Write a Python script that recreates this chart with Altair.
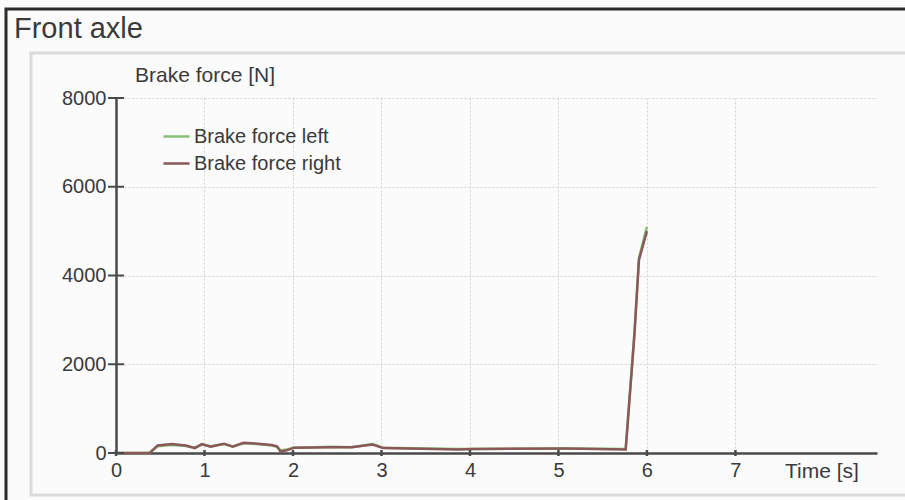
import altair as alt
import pandas as pd

# Brake force on the front axle, left and right wheel
time_s = [0.00, 0.38, 0.47, 0.63, 0.79, 0.89, 0.97, 1.07, 1.22, 1.32, 1.44, 1.60,
          1.76, 1.82, 1.86, 1.93, 2.01, 2.45, 2.66, 2.90, 3.02, 3.87, 4.03, 5.09,
          5.76, 5.86, 5.91, 6.00]
force_left = [0, 0, 150, 180, 160, 120, 190, 150, 200, 150, 220, 200,
              170, 140, 60, 80, 120, 140, 130, 200, 120, 90, 90, 100,
              90, 2750, 4400, 5100]
force_right = [0, 0, 170, 200, 170, 110, 200, 140, 210, 140, 230, 210,
               180, 150, 30, 60, 120, 130, 130, 190, 110, 80, 90, 100,
               80, 2700, 4350, 5000]

series_names = ["Brake force left", "Brake force right"]
series_colors = ["#86c276", "#8a5858"]

x_ticks = [0, 1, 2, 3, 4, 5, 6, 7]
y_ticks = [0, 2000, 4000, 6000, 8000]

rows = []
for name, values in zip(series_names, [force_left, force_right]):
    for t, f in zip(time_s, values):
        rows.append({"time": t, "force": f, "series": name})
df = pd.DataFrame(rows)

W, H = 761, 355
LEFT, TOP = 116, 98
FONT = "Liberation Sans"
TEXT = "#3a3a3a"
AXIS = "#4a4a4a"

x_scale = alt.Scale(domain=[0, 8.6], nice=False)
y_scale = alt.Scale(domain=[0, 8000], nice=False)

x_axis = alt.Axis(values=x_ticks, title=None, grid=True, format="d",
                  gridColor="#d2d2d2", gridDash=[2, 2], gridWidth=1,
                  domainColor=AXIS, domainWidth=2.5, ticks=False,
                  labelFont=FONT, labelFontSize=20, labelColor=TEXT,
                  labelPadding=7, labelFlush=False)
y_axis = alt.Axis(values=y_ticks, title=None, grid=True, format="d",
                  gridColor="#d2d2d2", gridDash=[2, 2], gridWidth=1,
                  domainColor=AXIS, domainWidth=2.5, ticks=False,
                  labelFont=FONT, labelFontSize=20, labelColor=TEXT,
                  labelPadding=10)

# outer frame and inner panel outline
frame = alt.Chart(pd.DataFrame({"k": [0]})).mark_rect(
    fill="transparent", stroke="#2b2b2b", strokeWidth=3
).encode(x=alt.value(6 - LEFT), x2=alt.value(905 - LEFT + 20),
         y=alt.value(9 - TOP), y2=alt.value(500 - TOP + 20))

panel = alt.Chart(pd.DataFrame({"k": [0]})).mark_rect(
    fill="transparent", stroke="#dadada", strokeWidth=3
).encode(x=alt.value(31 - LEFT), x2=alt.value(905 - LEFT + 20),
         y=alt.value(53 - TOP), y2=alt.value(495 - TOP))

lines = alt.Chart(df).mark_line(strokeWidth=2.5, clip=False).encode(
    x=alt.X("time:Q", scale=x_scale, axis=x_axis),
    y=alt.Y("force:Q", scale=y_scale, axis=y_axis),
    color=alt.Color("series:N",
                    scale=alt.Scale(domain=series_names, range=series_colors),
                    legend=alt.Legend(title=None, orient="none",
                                      legendX=46, legendY=24,
                                      symbolType="stroke", symbolSize=680,
                                      symbolStrokeWidth=2.5,
                                      labelFont=FONT, labelFontSize=20,
                                      labelColor=TEXT, labelOffset=3,
                                      rowPadding=2, padding=0)),
    order=alt.Order("time:Q"),
)

# tick marks crossing both axis lines
y_tick_marks = alt.Chart(pd.DataFrame({"force": y_ticks})).mark_rule(
    color=AXIS, strokeWidth=2
).encode(y=alt.Y("force:Q", scale=y_scale, axis=y_axis),
         x=alt.value(-8), x2=alt.value(8))

x_tick_marks = alt.Chart(pd.DataFrame({"time": x_ticks})).mark_rule(
    color=AXIS, strokeWidth=2.5
).encode(x=alt.X("time:Q", scale=x_scale, axis=x_axis),
         y=alt.value(H - 3), y2=alt.value(H + 3))

def label(text, x, y, size, align="left"):
    return alt.Chart(pd.DataFrame({"t": [text]})).mark_text(
        font=FONT, fontSize=size, color=TEXT, align=align, baseline="middle"
    ).encode(x=alt.value(x), y=alt.value(y), text="t:N")

title = label("Front axle", 14 - LEFT, 29 - TOP, 29)
y_title = label("Brake force [N]", 135 - LEFT, 76 - TOP, 21)
x_title = label("Time [s]", 785 - LEFT, 472 - TOP, 21)

chart = alt.layer(frame, panel, lines, y_tick_marks, x_tick_marks,
                  title, y_title, x_title).properties(
    width=W, height=H,
    padding={"left": LEFT, "top": TOP, "right": 905 - LEFT - W, "bottom": 500 - TOP - H},
    autosize=alt.AutoSizeParams(type="none"),
).configure(background="#fbfbfb").configure_view(stroke="transparent")

chart.save("out.html", embed_options={"renderer": "svg", "actions": False})
